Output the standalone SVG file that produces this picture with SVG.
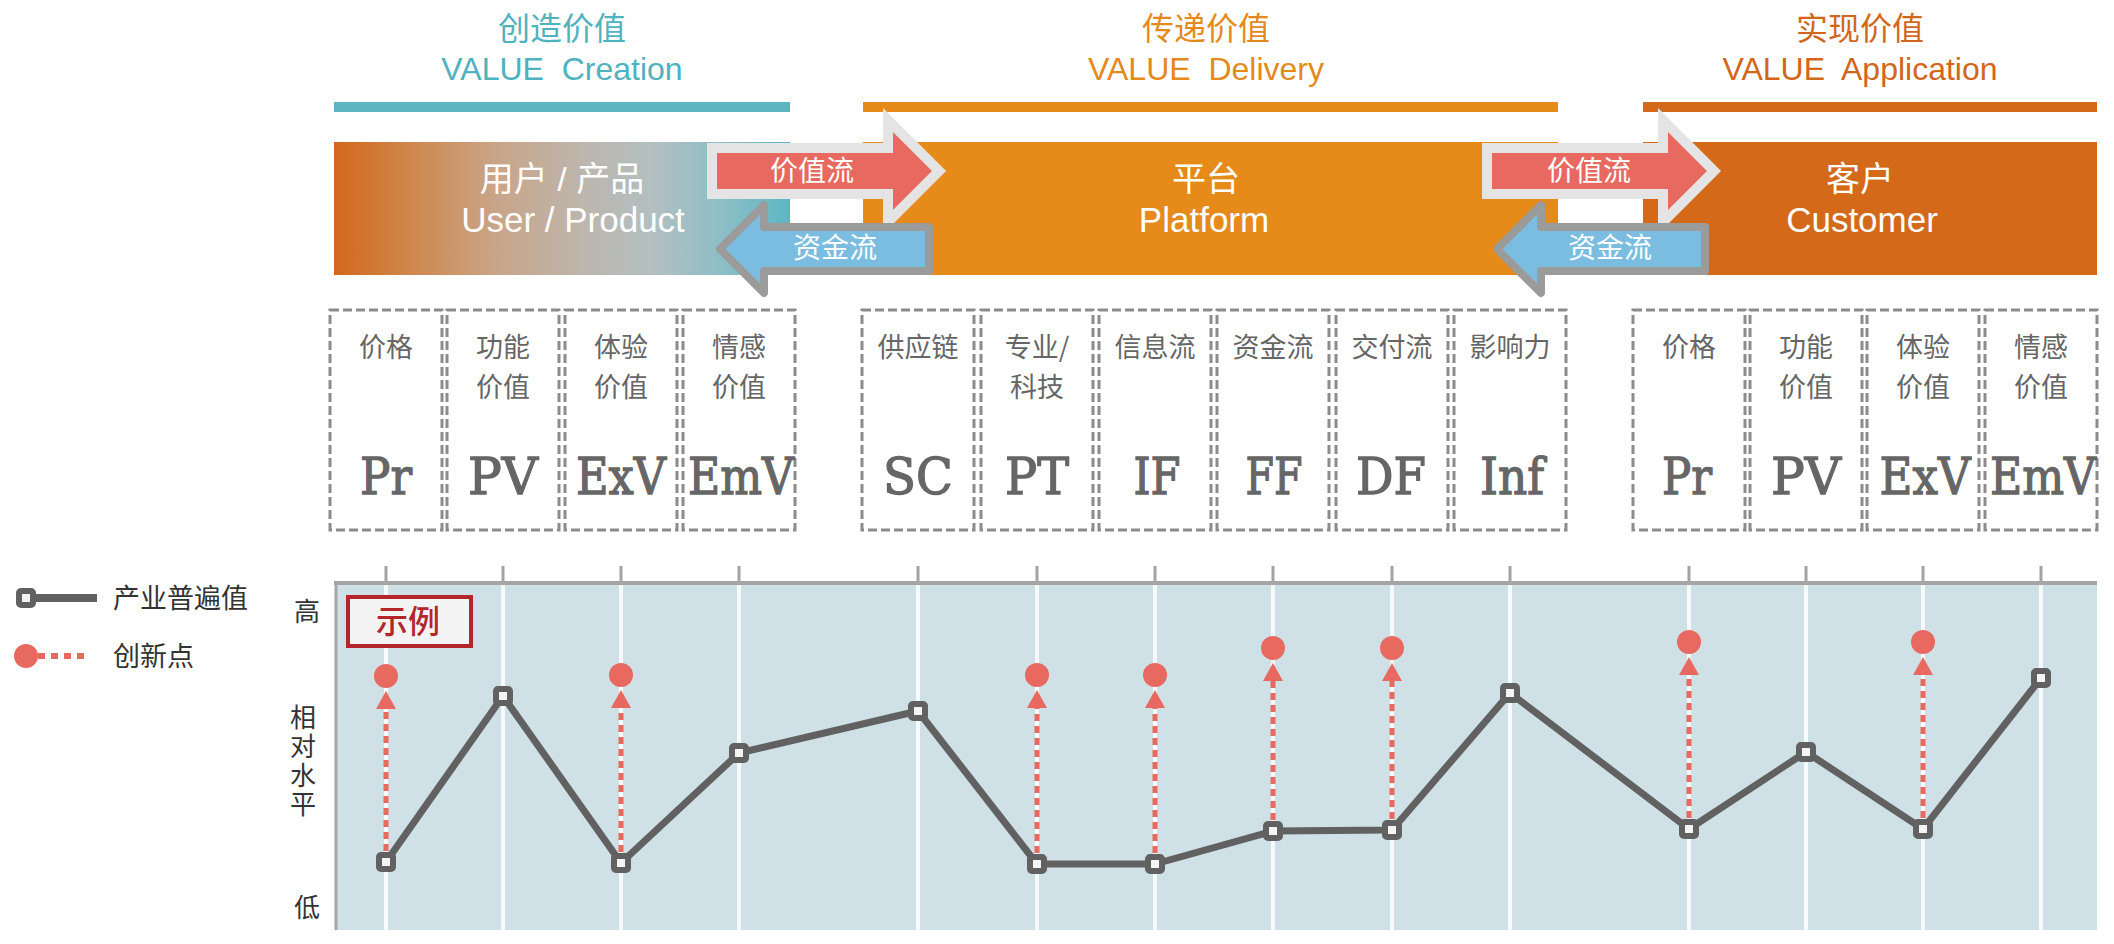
<svg xmlns="http://www.w3.org/2000/svg" width="2114" height="944" viewBox="0 0 2114 944">
<defs>
<style>
.t{font-family:"Liberation Sans","Noto Sans CJK SC",sans-serif}
.cjk{font-family:"Noto Sans CJK SC","Liberation Sans",sans-serif}
.box rect{fill:#fff;stroke:#8c8c8c;stroke-width:3;stroke-dasharray:9 4}
.lbl{font-family:"Noto Sans CJK SC",sans-serif;font-size:27px;fill:#666;text-anchor:middle}
.abbr{font-family:"DejaVu Serif","Liberation Serif",serif;font-size:50px;fill:#666;stroke:#666;stroke-width:1.3;text-anchor:middle}
.band{font-size:35px;fill:#fff;text-anchor:middle}
.bandc{font-size:34px;fill:#fff;text-anchor:middle}
.flow{font-family:"Noto Sans CJK SC",sans-serif;font-size:28px;fill:#fff;text-anchor:middle}
.ax{font-family:"Noto Sans CJK SC",sans-serif;font-size:26px;fill:#333;text-anchor:middle}
.leg{font-family:"Noto Sans CJK SC",sans-serif;font-size:27px;fill:#333;text-anchor:start}
.mk{fill:#f4f4f4;stroke:#616161;stroke-width:6}
.inn{stroke:#e8695f;stroke-width:5;stroke-dasharray:7 5;fill:none}
.dot{fill:#e8695f}
.grid{stroke:#f7fafb;stroke-width:4}
.tick{stroke:#a3a3a3;stroke-width:3}
</style>
<linearGradient id="gLeft" x1="0" y1="0" x2="1" y2="0">
<stop offset="0" stop-color="#d3671c"/>
<stop offset="0.15" stop-color="#cf8447"/>
<stop offset="0.35" stop-color="#c9a487"/>
<stop offset="0.55" stop-color="#bcb6ae"/>
<stop offset="0.7" stop-color="#b2bfc1"/>
<stop offset="0.85" stop-color="#8ebec6"/>
<stop offset="1" stop-color="#5cb7c3"/>
</linearGradient>
<marker id="tri" viewBox="0 0 18 20" refX="0" refY="10" markerWidth="18" markerHeight="20" markerUnits="userSpaceOnUse" orient="auto">
<path d="M0,0 L18,10 L0,20 Z" fill="#e8695f"/>
</marker>
</defs>

<!-- Section titles -->
<g id="title-creation">
<text class="cjk" x="562" y="40" font-size="32" fill="#4fb2bf" text-anchor="middle">创造价值</text>
<text class="t" x="562" y="80" font-size="32" fill="#4fb2bf" text-anchor="middle" xml:space="preserve">VALUE  Creation</text>
<rect x="334" y="102" width="456" height="10" fill="#5bb6c2"/>
</g>
<g id="title-delivery">
<text class="cjk" x="1206" y="40" font-size="32" fill="#e48a1c" text-anchor="middle">传递价值</text>
<text class="t" x="1206" y="80" font-size="32" fill="#e48a1c" text-anchor="middle" xml:space="preserve">VALUE  Delivery</text>
<rect x="863" y="102" width="695" height="10" fill="#e68a19"/>
</g>
<g id="title-application">
<text class="cjk" x="1860" y="40" font-size="32" fill="#d2671c" text-anchor="middle">实现价值</text>
<text class="t" x="1860" y="80" font-size="32" fill="#d2671c" text-anchor="middle" xml:space="preserve">VALUE  Application</text>
<rect x="1643" y="102" width="454" height="10" fill="#d4691a"/>
</g>

<!-- Bands -->
<g id="band-user">
<rect x="334" y="142" width="456" height="133" fill="url(#gLeft)"/>
<text class="t bandc" x="562" y="191">用户 / 产品</text>
<text class="t band" x="573" y="232">User / Product</text>
</g>
<g id="band-platform">
<rect x="863" y="142" width="695" height="133" fill="#e68a19"/>
<text class="t bandc" x="1206" y="191">平台</text>
<text class="t band" x="1204" y="232">Platform</text>
</g>
<g id="band-customer">
<rect x="1643" y="142" width="454" height="133" fill="#d4691a"/>
<text class="t bandc" x="1860" y="191">客户</text>
<text class="t band" x="1862" y="232">Customer</text>
</g>

<!-- Flow arrows -->
<g id="value-flow-1">
<polygon points="712,148 888,148 888,120 939,171 888,222 888,194 712,194" fill="#e8695f" stroke="#e4e4e4" stroke-width="10"/>
<text class="flow" x="812" y="181">价值流</text>
</g>
<g id="money-flow-1">
<polygon points="929,227 764,227 764,205 720,249 764,293 764,271 929,271" fill="#7bbde0" stroke="#9b9b9b" stroke-width="8" stroke-linejoin="round"/>
<text class="flow" x="835" y="258">资金流</text>
</g>
<g id="value-flow-2">
<polygon points="1487,148 1663,148 1663,120 1714,171 1663,222 1663,194 1487,194" fill="#e8695f" stroke="#e4e4e4" stroke-width="10"/>
<text class="flow" x="1589" y="181">价值流</text>
</g>
<g id="money-flow-2">
<polygon points="1705,227 1541,227 1541,205 1497,249 1541,293 1541,271 1705,271" fill="#7bbde0" stroke="#9b9b9b" stroke-width="8" stroke-linejoin="round"/>
<text class="flow" x="1610" y="258">资金流</text>
</g>

<!-- Dimension boxes: creation -->
<g id="box-c-pr" class="box"><rect x="330" y="310" width="112" height="220"/><text class="lbl" x="386" y="357">价格</text><text class="abbr" x="386" y="494" textLength="52" lengthAdjust="spacingAndGlyphs">Pr</text></g>
<g id="box-c-pv" class="box"><rect x="447" y="310" width="112" height="220"/><text class="lbl" x="503" y="357">功能</text><text class="lbl" x="503" y="397">价值</text><text class="abbr" x="503" y="494" textLength="70" lengthAdjust="spacingAndGlyphs">PV</text></g>
<g id="box-c-exv" class="box"><rect x="565" y="310" width="112" height="220"/><text class="lbl" x="621" y="357">体验</text><text class="lbl" x="621" y="397">价值</text><text class="abbr" x="621" y="494" textLength="90" lengthAdjust="spacingAndGlyphs">ExV</text></g>
<g id="box-c-emv" class="box"><rect x="683" y="310" width="112" height="220"/><text class="lbl" x="739" y="357">情感</text><text class="lbl" x="739" y="397">价值</text><text class="abbr" x="741" y="494" textLength="106" lengthAdjust="spacingAndGlyphs">EmV</text></g>

<!-- Dimension boxes: delivery -->
<g id="box-d-sc" class="box"><rect x="862" y="310" width="112" height="220"/><text class="lbl" x="918" y="357">供应链</text><text class="abbr" x="918" y="494" textLength="70" lengthAdjust="spacingAndGlyphs">SC</text></g>
<g id="box-d-pt" class="box"><rect x="981" y="310" width="112" height="220"/><text class="lbl" x="1037" y="357">专业/</text><text class="lbl" x="1037" y="397">科技</text><text class="abbr" x="1037" y="494" textLength="64" lengthAdjust="spacingAndGlyphs">PT</text></g>
<g id="box-d-if" class="box"><rect x="1099" y="310" width="112" height="220"/><text class="lbl" x="1155" y="357">信息流</text><text class="abbr" x="1157" y="494" textLength="47" lengthAdjust="spacingAndGlyphs">IF</text></g>
<g id="box-d-ff" class="box"><rect x="1217" y="310" width="112" height="220"/><text class="lbl" x="1273" y="357">资金流</text><text class="abbr" x="1274" y="494" textLength="57" lengthAdjust="spacingAndGlyphs">FF</text></g>
<g id="box-d-df" class="box"><rect x="1336" y="310" width="112" height="220"/><text class="lbl" x="1392" y="357">交付流</text><text class="abbr" x="1391" y="494" textLength="70" lengthAdjust="spacingAndGlyphs">DF</text></g>
<g id="box-d-inf" class="box"><rect x="1454" y="310" width="112" height="220"/><text class="lbl" x="1510" y="357">影响力</text><text class="abbr" x="1512" y="494" textLength="64" lengthAdjust="spacingAndGlyphs">Inf</text></g>

<!-- Dimension boxes: application -->
<g id="box-a-pr" class="box"><rect x="1633" y="310" width="112" height="220"/><text class="lbl" x="1689" y="357">价格</text><text class="abbr" x="1687" y="494" textLength="50" lengthAdjust="spacingAndGlyphs">Pr</text></g>
<g id="box-a-pv" class="box"><rect x="1750" y="310" width="112" height="220"/><text class="lbl" x="1806" y="357">功能</text><text class="lbl" x="1806" y="397">价值</text><text class="abbr" x="1806" y="494" textLength="70" lengthAdjust="spacingAndGlyphs">PV</text></g>
<g id="box-a-exv" class="box"><rect x="1867" y="310" width="112" height="220"/><text class="lbl" x="1923" y="357">体验</text><text class="lbl" x="1923" y="397">价值</text><text class="abbr" x="1925" y="494" textLength="91" lengthAdjust="spacingAndGlyphs">ExV</text></g>
<g id="box-a-emv" class="box"><rect x="1985" y="310" width="112" height="220"/><text class="lbl" x="2041" y="357">情感</text><text class="lbl" x="2041" y="397">价值</text><text class="abbr" x="2043" y="494" textLength="106" lengthAdjust="spacingAndGlyphs">EmV</text></g>

<!-- Chart area -->
<g id="chart">
<rect x="336" y="583" width="1761" height="347" fill="#cfe1e6"/>
<g class="grid">
<line x1="386" y1="585" x2="386" y2="930"/><line x1="503" y1="585" x2="503" y2="930"/><line x1="621" y1="585" x2="621" y2="930"/><line x1="739" y1="585" x2="739" y2="930"/>
<line x1="918" y1="585" x2="918" y2="930"/><line x1="1037" y1="585" x2="1037" y2="930"/><line x1="1155" y1="585" x2="1155" y2="930"/><line x1="1273" y1="585" x2="1273" y2="930"/><line x1="1392" y1="585" x2="1392" y2="930"/><line x1="1510" y1="585" x2="1510" y2="930"/>
<line x1="1689" y1="585" x2="1689" y2="930"/><line x1="1806" y1="585" x2="1806" y2="930"/><line x1="1923" y1="585" x2="1923" y2="930"/><line x1="2041" y1="585" x2="2041" y2="930"/>
</g>
<g class="tick">
<line x1="386" y1="566" x2="386" y2="583"/><line x1="503" y1="566" x2="503" y2="583"/><line x1="621" y1="566" x2="621" y2="583"/><line x1="739" y1="566" x2="739" y2="583"/>
<line x1="918" y1="566" x2="918" y2="583"/><line x1="1037" y1="566" x2="1037" y2="583"/><line x1="1155" y1="566" x2="1155" y2="583"/><line x1="1273" y1="566" x2="1273" y2="583"/><line x1="1392" y1="566" x2="1392" y2="583"/><line x1="1510" y1="566" x2="1510" y2="583"/>
<line x1="1689" y1="566" x2="1689" y2="583"/><line x1="1806" y1="566" x2="1806" y2="583"/><line x1="1923" y1="566" x2="1923" y2="583"/><line x1="2041" y1="566" x2="2041" y2="583"/>
</g>
<line x1="334" y1="583" x2="2097" y2="583" stroke="#a5a5a5" stroke-width="4"/>
<line x1="336" y1="583" x2="336" y2="930" stroke="#a5a5a5" stroke-width="3"/>
</g>

<!-- Axis labels -->
<g id="axis-labels">
<text class="ax" x="307" y="621">高</text>
<text class="ax" x="303" y="762" writing-mode="vertical-rl" letter-spacing="3">相对水平</text>
<text class="ax" x="307" y="917">低</text>
</g>

<!-- Example tag -->
<g id="example-tag">
<rect x="348" y="597" width="123" height="49" fill="#f4f4f4" stroke="#b3262b" stroke-width="4"/>
<text x="408" y="633" font-family="Noto Sans CJK SC,sans-serif" font-size="32" font-weight="500" fill="#b3262b" text-anchor="middle">示例</text>
</g>

<!-- Legend -->
<g id="legend">
<line x1="26" y1="598" x2="97" y2="598" stroke="#616161" stroke-width="8"/>
<rect x="19" y="591" width="14" height="14" rx="2" class="mk"/>
<text class="leg" x="113" y="608">产业普遍值</text>
<line x1="38" y1="656" x2="86" y2="656" stroke="#e8695f" stroke-width="6" stroke-dasharray="7 6"/>
<circle cx="26" cy="656" r="12" class="dot"/>
<text class="leg" x="113" y="666">创新点</text>
</g>

<!-- Connectors: industry line and innovation arrows -->
<g id="connectors">
<polyline points="386,862 503,696 621,863 739,753 918,711 1037,864 1155,864 1273,831 1392,830 1510,693 1689,829 1806,752 1923,829 2041,678" fill="none" stroke="#616161" stroke-width="7" stroke-linejoin="round"/>
<line class="inn" x1="386" y1="851" x2="386" y2="709" marker-end="url(#tri)"/>
<line class="inn" x1="621" y1="852" x2="621" y2="708" marker-end="url(#tri)"/>
<line class="inn" x1="1037" y1="853" x2="1037" y2="708" marker-end="url(#tri)"/>
<line class="inn" x1="1155" y1="853" x2="1155" y2="708" marker-end="url(#tri)"/>
<line class="inn" x1="1273" y1="820" x2="1273" y2="681" marker-end="url(#tri)"/>
<line class="inn" x1="1392" y1="819" x2="1392" y2="681" marker-end="url(#tri)"/>
<line class="inn" x1="1689" y1="818" x2="1689" y2="675" marker-end="url(#tri)"/>
<line class="inn" x1="1923" y1="818" x2="1923" y2="675" marker-end="url(#tri)"/>
</g>

<!-- Data markers -->
<g id="markers">
<rect class="mk" x="379" y="855" width="14" height="14" rx="2"/>
<rect class="mk" x="496" y="689" width="14" height="14" rx="2"/>
<rect class="mk" x="614" y="856" width="14" height="14" rx="2"/>
<rect class="mk" x="732" y="746" width="14" height="14" rx="2"/>
<rect class="mk" x="911" y="704" width="14" height="14" rx="2"/>
<rect class="mk" x="1030" y="857" width="14" height="14" rx="2"/>
<rect class="mk" x="1148" y="857" width="14" height="14" rx="2"/>
<rect class="mk" x="1266" y="824" width="14" height="14" rx="2"/>
<rect class="mk" x="1385" y="823" width="14" height="14" rx="2"/>
<rect class="mk" x="1503" y="686" width="14" height="14" rx="2"/>
<rect class="mk" x="1682" y="822" width="14" height="14" rx="2"/>
<rect class="mk" x="1799" y="745" width="14" height="14" rx="2"/>
<rect class="mk" x="1916" y="822" width="14" height="14" rx="2"/>
<rect class="mk" x="2034" y="671" width="14" height="14" rx="2"/>
</g>

<!-- Innovation points -->
<g id="innovation-points">
<circle class="dot" cx="386" cy="676" r="12"/>
<circle class="dot" cx="621" cy="675" r="12"/>
<circle class="dot" cx="1037" cy="675" r="12"/>
<circle class="dot" cx="1155" cy="675" r="12"/>
<circle class="dot" cx="1273" cy="648" r="12"/>
<circle class="dot" cx="1392" cy="648" r="12"/>
<circle class="dot" cx="1689" cy="642" r="12"/>
<circle class="dot" cx="1923" cy="642" r="12"/>
</g>
</svg>
